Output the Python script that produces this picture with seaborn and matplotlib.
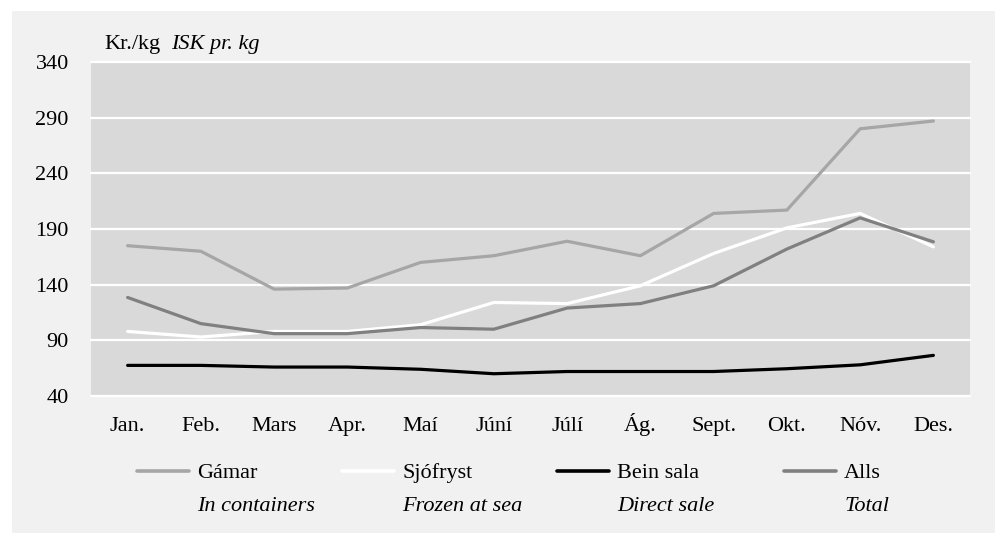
import pandas as pd
import seaborn as sns
import matplotlib.pyplot as plt
from matplotlib.patches import Rectangle
from matplotlib.lines import Line2D

# Monthly prices, ISK per kg
months = ['Jan.', 'Feb.', 'Mars', 'Apr.', 'Maí', 'Júní', 'Júlí', 'Ág.', 'Sept.', 'Okt.', 'Nóv.', 'Des.']
gamar = [175, 170, 136, 137, 160, 166, 179, 166, 204, 207, 280, 287]
sjofryst = [98, 93, 98, 98, 104, 124, 123, 139, 168, 191, 204, 174]
bein_sala = [67.5, 67.5, 66, 66, 64, 60, 62, 62, 62, 64.5, 68, 76.5]
alls = [128.5, 105, 96, 96, 101.5, 100, 119, 123, 139, 172, 200, 178.5]

series_names = ['Gámar', 'Sjófryst', 'Bein sala', 'Alls']
series_en = ['In containers', 'Frozen at sea', 'Direct sale', 'Total']
series_colors = ['#a6a6a6', '#ffffff', '#000000', '#808080']
yticks = [40, 90, 140, 190, 240, 290, 340]

# Long format for seaborn
frames = []
for name, vals in zip(series_names, [gamar, sjofryst, bein_sala, alls]):
    frames.append(pd.DataFrame({'month': months, 'value': vals, 'series': name}))
df = pd.concat(frames, ignore_index=True)

sns.set_style('white')
plt.rcParams['font.family'] = ['Liberation Serif', 'DejaVu Serif']
plt.rcParams['text.color'] = 'black'
plt.rcParams['xtick.color'] = 'black'
plt.rcParams['ytick.color'] = 'black'
fs = 16

fig = plt.figure(figsize=(9.97, 5.34), dpi=100, facecolor='white')

# light grey panel behind everything
fig.patches.append(Rectangle((12 / 997, 1 / 534), 983 / 997, 522 / 534,
                             transform=fig.transFigure, facecolor='#f0f1f0',
                             edgecolor='none', zorder=-1))

ax = fig.add_axes([91 / 997, 1 - 396 / 534, 879 / 997, 334 / 534])
ax.set_zorder(1)
ax.set_facecolor('#d9d9d9')

sns.lineplot(data=df, x='month', y='value', hue='series', hue_order=series_names,
             palette=series_colors, sort=False, linewidth=2.3, legend=False, ax=ax)

ax.set_xlim(-0.5, len(months) - 0.5)
ax.set_ylim(40, 340)
ax.set_yticks(yticks)
ax.set_yticklabels([str(v) for v in yticks], fontsize=fs)
ax.set_xticks(range(len(months)))
ax.set_xticklabels(months, fontsize=fs, va='baseline')
ax.tick_params(axis='both', length=0)
ax.tick_params(axis='y', pad=16)
ax.tick_params(axis='x', pad=25)
ax.set_xlabel('')
ax.set_ylabel('')
for s in ax.spines.values():
    s.set_visible(False)
for v in yticks:
    ax.axhline(v, color='white', linewidth=1.6, zorder=1, clip_on=False)
for ln in ax.get_lines()[:4]:
    ln.set_zorder(3)
    ln.set_solid_capstyle('round')

# unit label above the axis
fig.text(104 / 997, 1 - 45 / 534, 'Kr./kg', fontsize=fs, va='center', ha='left')
fig.text(171 / 997, 1 - 45 / 534, 'ISK pr. kg', fontsize=fs, va='center', ha='left',
         style='italic')

# legend with English names underneath
handles = [Line2D([0], [0], color=c, linewidth=2.6) for c in series_colors]
leg = fig.legend(handles, series_names, loc='center', ncol=4, frameon=False,
                 bbox_to_anchor=(509 / 997, 1 - 473 / 534), fontsize=fs,
                 handlelength=2.35, handletextpad=0.36, columnspacing=3.8)

fig.canvas.draw()
for t, en in zip(leg.get_texts(), series_en):
    bb = t.get_window_extent()
    fig.text(bb.x0 / fig.bbox.width, (bb.y0 + bb.y1) / 2 / fig.bbox.height - 33 / 534,
             en, fontsize=fs, style='italic', va='center', ha='left')

fig.savefig('out.png', dpi=100, facecolor='white')
plt.close()
